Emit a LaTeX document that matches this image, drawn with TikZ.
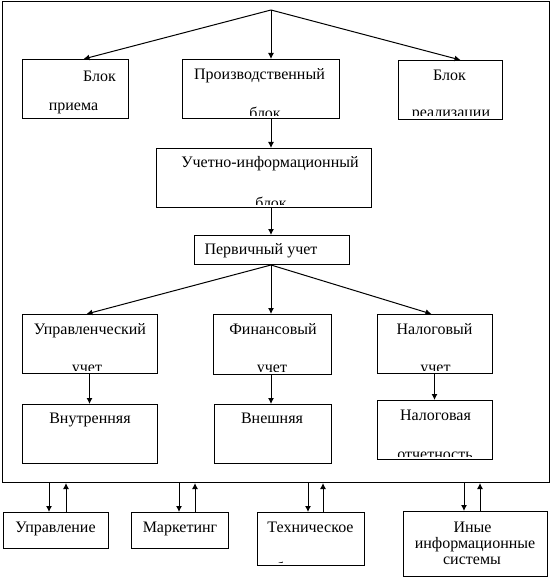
\documentclass[tikz,border=0pt]{standalone}
\usepackage{fontspec}
\setmainfont{Liberation Serif}
\usetikzlibrary{arrows.meta,calc}

\tikzset{
  blok/.style={draw, line width=1bp, inner sep=0pt, anchor=north west},
  txt/.style={inner sep=0pt, anchor=base, font=\fontsize{16bp}{19bp}\selectfont},
  arr/.style={line width=1bp, -{Latex[length=6bp,width=6bp]}}
}

\begin{document}
\begin{tikzpicture}[x=1bp,y=-1bp]
		\useasboundingbox (0,0) rectangle (551,580);
		
		% Outer block
		\node[blok, minimum width=547bp, minimum height=481bp] (sys) at (2,1) {};
		\coordinate (top) at (271,10);
		
		% Top row
		\node[blok, minimum width=106bp, minimum height=59bp] (priem) at (22,59) {};
		\node[blok, minimum width=157bp, minimum height=59bp] (proizv) at (182,59) {};
		\node[blok, minimum width=104bp, minimum height=59bp] (realiz) at (398,60) {};
		\node[txt] (priem1) at (99.5,82) {Блок};
		\node[txt] (priem2) at (73.5,111) {приема};
		\node[txt] (proizv1) at (259.5,80) {Производственный};
		\node[txt] (realiz1) at (449.5,81) {Блок};
		\begin{scope}
			\clip (proizv.north west) rectangle ([yshift=3bp]proizv.south east);
			\node[txt] (proizv2) at (265,119) {блок};
		\end{scope}
		\begin{scope}
			\clip (realiz.north west) rectangle ([yshift=4bp]realiz.south east);
			\node[txt] (realiz2) at (451,118) {реализации};
		\end{scope}
		
		% Accounting block
		\node[blok, minimum width=215bp, minimum height=59bp] (uchet) at (156,148) {};
		\node[txt] (uchet1) at (270,168) {Учетно-информационный};
		\begin{scope}
			\clip (uchet.north west) rectangle ([yshift=4bp]uchet.south east);
			\node[txt] (uchet2) at (271,208) {блок};
		\end{scope}
		\node[blok, minimum width=155bp, minimum height=29bp] (perv) at (194,235) {};
		\node[txt] (perv1) at (261,254) {Первичный учет};
		
		% Kinds of accounting
		\node[blok, minimum width=135bp, minimum height=59bp] (upruch) at (22,314) {};
		\node[blok, minimum width=118bp, minimum height=60bp] (finuch) at (213,314) {};
		\node[blok, minimum width=115bp, minimum height=59bp] (naluch) at (377,314) {};
		\node[txt] (upruch1) at (90,334) {Управленческий};
		\node[txt] (finuch1) at (273,334) {Финансовый};
		\node[txt] (naluch1) at (434.5,334) {Налоговый};
		\foreach \b/\x in {upruch/87,finuch/272,naluch/435.5} {
			\begin{scope}
				\clip (\b.north west) rectangle ([yshift=4bp]\b.south east);
				\node[txt] (\b2) at (\x,372) {учет};
			\end{scope}
		}
		
		% Reporting
		\node[blok, minimum width=135bp, minimum height=59bp] (vnutr) at (22,404) {};
		\node[blok, minimum width=117bp, minimum height=59bp] (vnesh) at (214,404) {};
		\node[blok, minimum width=115bp, minimum height=59bp] (nalotch) at (377,400) {};
		\node[txt] (vnutr1) at (90,423) {Внутренняя};
		\node[txt] (vnesh1) at (272,423) {Внешняя};
		\node[txt] (nalotch1) at (435.5,420) {Налоговая};
		\begin{scope}
			\clip (nalotch.north west) rectangle ([yshift=4bp]nalotch.south east);
			\node[txt] (nalotch2) at (435,459) {отчетность};
		\end{scope}
		
		% Outside users
		\node[blok, minimum width=105bp, minimum height=36bp] (upr) at (3,512) {};
		\node[blok, minimum width=97bp, minimum height=36bp] (mark) at (131,512) {};
		\node[blok, minimum width=107bp, minimum height=53bp] (tech) at (257,512) {};
		\node[blok, minimum width=144bp, minimum height=65bp] (inye) at (403,511) {};
		\node[txt] (upr1) at (55.5,532) {Управление};
		\node[txt] (mark1) at (180,532) {Маркетинг};
		\node[txt] (tech1) at (310.5,532) {Техническое};
		\begin{scope}
			\clip (tech.north west) rectangle ([yshift=4bp]tech.south east);
			\node[txt] (tech2) at (310.5,573) {обеспечение};
		\end{scope}
		\node[txt] (inye1) at (472.5,532) {Иные};
		\node[txt] (inye2) at (475,548) {информационные};
		\node[txt] (inye3) at (472,564) {системы};
		
		% Arrows from the top
		\draw[arr] (top) -- ([xshift=8bp]priem.north);
		\draw[arr] (top) -- (top |- proizv.north);
		\draw[arr] (top) -- ([xshift=10bp]realiz.north);
		\draw[arr] (top |- proizv.south) -- (top |- uchet.north);
		\draw[arr] (top |- uchet.south) -- (top |- perv.north);
		
		% Arrows from primary accounting
		\draw[arr] (top |- perv.south) -- ([xshift=-3.5bp]upruch.north);
		\draw[arr] (top |- perv.south) -- (top |- finuch.north);
		\draw[arr] (top |- perv.south) -- ([xshift=-3.5bp]naluch.north);
		\draw[arr] ([xshift=-0.5bp]upruch.south) -- ([xshift=-0.5bp]upruch.south |- vnutr.north);
		\draw[arr] (top |- finuch.south) -- (top |- vnesh.north);
		\draw[arr] ([xshift=-0.5bp]naluch.south) -- ([xshift=-0.5bp]naluch.south |- nalotch.north);
		
		% Exchange with the outside users
		\foreach \b/\d/\u in {upr/49/66,mark/179/195,tech/308/323,inye/464/480} {
			\draw[arr] (sys.south -| \d,0) -- (\d,0 |- \b.north);
			\draw[arr] (\u,0 |- \b.north) -- (sys.south -| \u,0);
		}
		
	\end{tikzpicture}
\end{document}
